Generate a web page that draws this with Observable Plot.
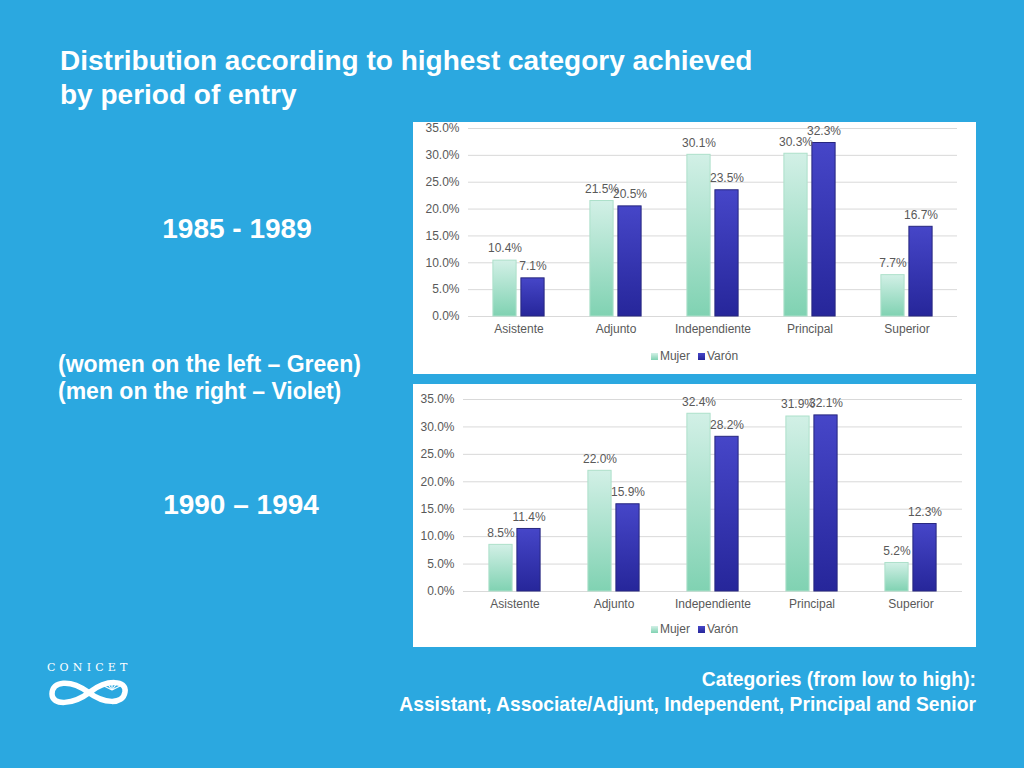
<!DOCTYPE html>
<html>
<head>
<meta charset="utf-8">
<script src="https://cdn.jsdelivr.net/npm/d3@7"></script>
<script src="https://cdn.jsdelivr.net/npm/@observablehq/plot@0.6"></script>
<style>
  html, body { margin: 0; padding: 0; background: #2ba8e0; }
  #slide { position: relative; width: 1024px; height: 768px; overflow: hidden; background: #2ba8e0; color: #fff;
           font-family: "Liberation Sans", Arial, Helvetica, sans-serif; }
  .abs { position: absolute; }
  .title { left: 60px; top: 44px; font-size: 28px; font-weight: bold; line-height: 34px; white-space: nowrap; }
  .period { font-size: 28px; font-weight: bold; white-space: nowrap; transform: translateX(-50%); }
  .note { left: 58px; top: 351px; font-size: 23px; font-weight: bold; line-height: 27px; white-space: nowrap; }
  .caption { right: 48px; top: 667px; font-size: 19.3px; font-weight: bold; line-height: 25px; text-align: right; white-space: nowrap; }
  .panel { background: #fff; }
  .legend { position: absolute; left: 0; width: 100%; display: flex; justify-content: center; align-items: center;
            font-size: 12px; color: #595959; gap: 8px; }
  .legend span.item { display: flex; align-items: center; gap: 2px; }
  .sw { display: inline-block; width: 7px; height: 7px; }
  .conicet { left: 47px; top: 661px; font-family: "DejaVu Serif", "Liberation Serif", serif; font-size: 11px; letter-spacing: 4.2px; color: #fff; font-weight: 300; }
</style>
</head>
<body>
<svg width="0" height="0" style="position:absolute">
  <defs>
    <linearGradient id="gM" x1="0" y1="0" x2="0" y2="1">
      <stop offset="0" stop-color="#d2f0e6"/>
      <stop offset="1" stop-color="#80d2b2"/>
    </linearGradient>
    <linearGradient id="gV" x1="0" y1="0" x2="0" y2="1">
      <stop offset="0" stop-color="#4646c8"/>
      <stop offset="1" stop-color="#26269a"/>
    </linearGradient>
  </defs>
</svg>
<div id="slide">
  <div class="abs title">Distribution according to highest category achieved<br>by period of entry</div>
  <div class="abs period" style="left:237px; top:213px;">1985 - 1989</div>
  <div class="abs note">(women on the left – Green)<br>(men on the right – Violet)</div>
  <div class="abs period" style="left:241px; top:489px;">1990 – 1994</div>
  <div class="abs caption">Categories (from low to high):<br>Assistant, Associate/Adjunt, Independent, Principal and Senior</div>

  <div class="abs conicet">CONICET</div>
  <svg class="abs" style="left:45px; top:673px;" width="90" height="38" viewBox="0 0 90 38">
    <path d="M7,21 C7,8 25,6 43,19 C59,31 78,32 80,19 C82,7 62,6 45,19 C28,32 7,33 7,21 Z"
          fill="none" stroke="#fff" stroke-width="5.5" stroke-linejoin="round"/>
    <g stroke="#fff" stroke-width="1.2">
      <line x1="67" y1="17" x2="67" y2="9"/>
      <line x1="67" y1="17" x2="72" y2="10"/>
      <line x1="67" y1="17" x2="62" y2="10"/>
      <line x1="67" y1="17" x2="75" y2="13"/>
      <line x1="67" y1="17" x2="59" y2="13"/>
    </g>
  </svg>

  <div id="p1" class="abs panel" style="left:413px; top:122px; width:563px; height:252px;"></div>
  <div id="p2" class="abs panel" style="left:413px; top:384px; width:563px; height:263px;"></div>
</div>
<script>
const categories = ["Asistente", "Adjunto", "Independiente", "Principal", "Superior"];
const seriesNames = ["Mujer", "Varón"];
const mujer1985 = [10.4, 21.5, 30.1, 30.3, 7.7];
const varon1985 = [7.1, 20.5, 23.5, 32.3, 16.7];
const mujer1990 = [8.5, 22.0, 32.4, 31.9, 5.2];
const varon1990 = [11.4, 15.9, 28.2, 32.1, 12.3];
const yTicks = [0, 5, 10, 15, 20, 25, 30, 35];

function makeChart(mujer, varon, g) {
  const rowsM = categories.map((c, i) => ({cat: c, value: mujer[i]}));
  const rowsV = categories.map((c, i) => ({cat: c, value: varon[i]}));
  const half = (g.width - g.ml - g.mr) / categories.length / 2;
  const fmt = d => d.toFixed(1) + "%";
  return Plot.plot({
    width: g.width, height: g.height,
    marginLeft: g.ml, marginRight: g.mr, marginTop: g.mt, marginBottom: g.mb,
    style: {background: "transparent", fontFamily: "'Liberation Sans', Arial, sans-serif", fontSize: "12px", color: "#595959", overflow: "visible"},
    x: {domain: categories, padding: 0, label: null, tickSize: 0, tickPadding: 8},
    y: {domain: [0, 35], ticks: yTicks, tickFormat: fmt, label: null, tickSize: 0, tickPadding: 9},
    marks: [
      Plot.gridY(yTicks, {stroke: "#d9d9d9", strokeOpacity: 1}),
      Plot.barY(rowsM, {x: "cat", y: "value", fill: "url(#gM)", stroke: "#ade0ca", strokeWidth: 1,
                        insetLeft: half - 26, insetRight: half + 2}),
      Plot.barY(rowsV, {x: "cat", y: "value", fill: "url(#gV)", stroke: "#26267f", strokeWidth: 1,
                        insetLeft: half + 2, insetRight: half - 26}),
      Plot.text(rowsM, {x: "cat", y: "value", text: d => fmt(d.value), dx: -14, dy: -12, fill: "#595959", fontSize: 12}),
      Plot.text(rowsV, {x: "cat", y: "value", text: d => fmt(d.value), dx: 14, dy: -12, fill: "#595959", fontSize: 12})
    ]
  });
}

function legend(top) {
  const div = document.createElement("div");
  div.className = "legend";
  div.style.top = (top - 7) + "px";
  div.style.height = "14px";
  const colors = {"Mujer": "linear-gradient(#d2f0e6,#80d2b2)", "Varón": "linear-gradient(#4646c8,#26269a)"};
  seriesNames.forEach(s => {
    const it = document.createElement("span");
    it.className = "item";
    const sw = document.createElement("span");
    sw.className = "sw";
    sw.style.background = colors[s];
    const t = document.createElement("span");
    t.textContent = s;
    it.appendChild(sw); it.appendChild(t);
    div.appendChild(it);
  });
  return div;
}

const p1 = document.getElementById("p1");
p1.appendChild(makeChart(mujer1985, varon1985, {width: 563, height: 220, ml: 55, mr: 19, mt: 6, mb: 26}));
p1.appendChild(legend(234));

const p2 = document.getElementById("p2");
p2.appendChild(makeChart(mujer1990, varon1990, {width: 563, height: 233, ml: 50, mr: 14, mt: 15, mb: 26}));
p2.appendChild(legend(245));
</script>
</body>
</html>
